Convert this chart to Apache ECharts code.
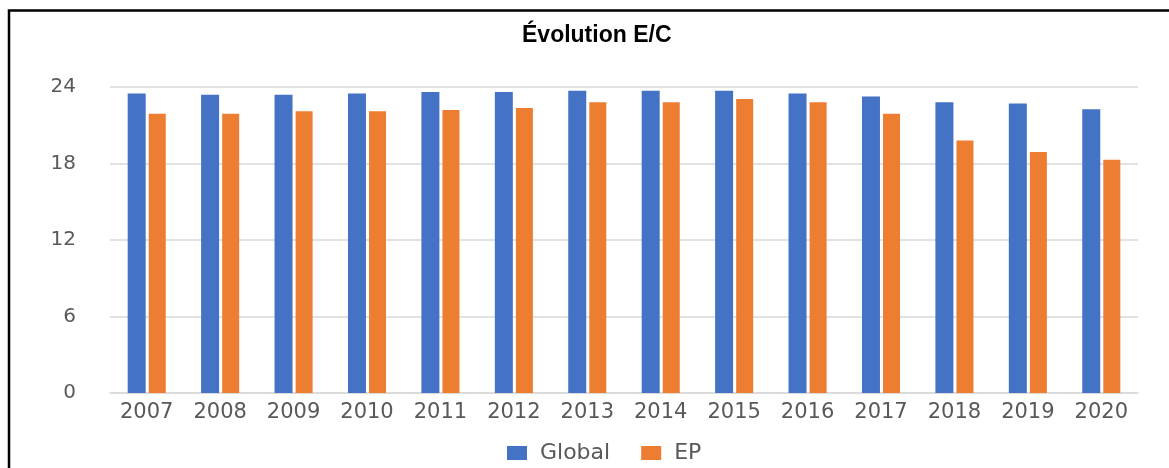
<!DOCTYPE html>
<html>
<head>
<meta charset="utf-8">
<script src="https://cdn.jsdelivr.net/npm/echarts@6/dist/echarts.min.js"></script>
<style>
html,body{margin:0;padding:0;background:#fff;}
#chart{width:1169px;height:468px;}
</style>
</head>
<body>
<div id="chart"></div>
<script>
const years = ['2007','2008','2009','2010','2011','2012','2013','2014','2015','2016','2017','2018','2019','2020'];
const globalValues = [23.5, 23.4, 23.4, 23.5, 23.6, 23.6, 23.7, 23.7, 23.7, 23.5, 23.25, 22.8, 22.7, 22.25];
const epValues = [21.9, 21.9, 22.1, 22.1, 22.2, 22.35, 22.8, 22.8, 23.05, 22.8, 21.9, 19.8, 18.9, 18.3];
const yTicks = [0, 6, 12, 18, 24];
const seriesNames = ['Global', 'EP'];

const chart = echarts.init(document.getElementById('chart'), null, {renderer: 'canvas'});
const labelFont = 'DejaVu Sans';
chart.setOption({
  animation: false,
  backgroundColor: '#ffffff',
  title: {
    text: 'Évolution E/C',
    left: 517,
    top: 19,
    textStyle: {fontFamily: 'Liberation Sans', fontWeight: 'bold', fontSize: 23, color: '#000'}
  },
  graphic: [{
    type: 'polyline',
    shape: {points: [[9, 468], [9, 10.5], [1169, 10.5]]},
    style: {stroke: '#000', lineWidth: 2.5, fill: null}
  }],
  legend: {
    data: seriesNames,
    left: 502,
    top: 437,
    itemWidth: 20,
    itemHeight: 14,
    itemGap: 31,
    icon: 'rect',
    textStyle: {fontFamily: labelFont, fontSize: 22, color: '#595959', padding: [0, 0, 0, 8]}
  },
  grid: {left: 110, right: 31, top: 87, bottom: 75},
  xAxis: {
    type: 'category',
    data: years,
    axisLine: {lineStyle: {color: '#d9d9d9', width: 1.5}},
    axisTick: {show: false},
    axisLabel: {fontFamily: labelFont, fontSize: 21, color: '#595959', margin: 9}
  },
  yAxis: {
    type: 'value',
    min: yTicks[0],
    max: yTicks[yTicks.length - 1],
    interval: 6,
    axisLine: {show: false},
    axisTick: {show: false},
    splitLine: {lineStyle: {color: '#d9d9d9', width: 1.5}},
    axisLabel: {fontFamily: labelFont, fontSize: 20, color: '#595959', margin: 34}
  },
  series: [
    {name: seriesNames[0], type: 'bar', data: globalValues, barWidth: 18, barGap: '17%', itemStyle: {color: '#4472C4'}},
    {name: seriesNames[1], type: 'bar', data: epValues, barWidth: 17, itemStyle: {color: '#ED7D31'}}
  ]
});
</script>
</body>
</html>
